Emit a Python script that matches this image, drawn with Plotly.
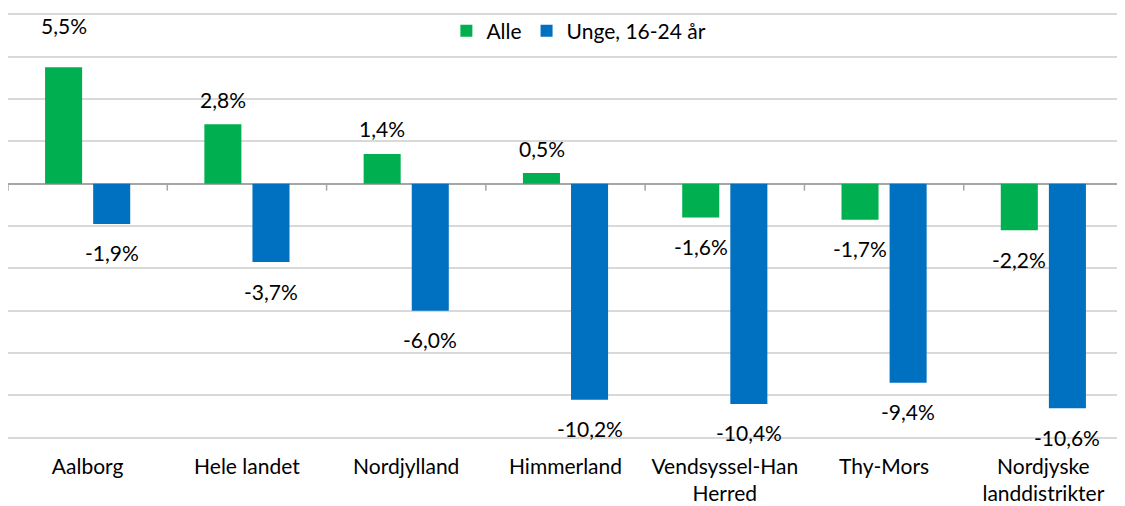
import plotly.graph_objects as go

categories = ["Aalborg", "Hele landet", "Nordjylland", "Himmerland",
              "Vendsyssel-Han<br>Herred", "Thy-Mors", "Nordjyske<br>landdistrikter"]
alle = [5.5, 2.8, 1.4, 0.5, -1.6, -1.7, -2.2]
unge = [-1.9, -3.7, -6.0, -10.2, -10.4, -9.4, -10.6]
series_names = ["Alle", "Unge, 16-24 år"]
y_ticks = [-12, -10, -8, -6, -4, -2, 0, 2, 4, 6, 8]

GREEN = "#00B050"
BLUE = "#0070C0"
FONT = "Lato"
FS = 21

# style: pixel gap between bar end and label centre
POS_SHIFT = 25
NEG_SHIFT = -29
extra_shift = {("Alle", 0): 17}
SLOT_SHIFT = 24  # half of a bar slot in px

fig = go.Figure()
for name, vals, col in [(series_names[0], alle, GREEN), (series_names[1], unge, BLUE)]:
    fig.add_trace(go.Bar(x=list(range(len(categories))), y=vals, name=name,
                         marker=dict(color=col, line=dict(width=0)),
                         hoverinfo="skip"))

annotations = []
for si, (name, vals) in enumerate([(series_names[0], alle), (series_names[1], unge)]):
    xs = -SLOT_SHIFT if si == 0 else SLOT_SHIFT
    for i, v in enumerate(vals):
        ys = POS_SHIFT if v >= 0 else NEG_SHIFT
        ys += extra_shift.get((name, i), 0)
        annotations.append(dict(x=i, y=v, xref="x", yref="y",
                                text=f"{v:.1f}%".replace(".", ","),
                                showarrow=False, xshift=xs, yshift=ys,
                                yanchor="middle", xanchor="center",
                                font=dict(family=FONT, size=FS, color="#000000")))

shapes = []
for b in range(len(categories) + 1):
    shapes.append(dict(type="line", xref="x", yref="y", x0=b - 0.5, x1=b - 0.5,
                       ysizemode="pixel", yanchor=0, y0=0, y1=-7,
                       line=dict(color="#A6A6A6", width=1.5), layer="above"))

fig.update_layout(
    width=1117, height=498,
    margin=dict(l=0, r=2, t=3, b=65, autoexpand=False),
    plot_bgcolor="white", paper_bgcolor="white",
    barmode="group", bargap=0.396, bargroupgap=0.23,
    font=dict(family=FONT, size=FS, color="#000000"),
    showlegend=True,
    legend=dict(orientation="h", x=0.512, xanchor="center", y=0.953, yanchor="middle",
                bgcolor="rgba(0,0,0,0)", font=dict(family=FONT, size=FS),
                itemclick=False, itemdoubleclick=False),
    annotations=annotations,
    shapes=shapes,
)
fig.update_xaxes(tickmode="array", tickvals=list(range(len(categories))),
                 ticktext=categories, range=[-0.5, len(categories) - 0.5],
                 showgrid=False, showline=False, zeroline=False, ticks="",
                 automargin=False,
                 ticklabelstandoff=11, tickfont=dict(family=FONT, size=FS))
fig.update_yaxes(range=[-12.15, 8.15], tickvals=y_ticks, showticklabels=False,
                 automargin=False,
                 showgrid=True, gridcolor="#D9D9D9", gridwidth=1.5,
                 zeroline=True, zerolinecolor="#A6A6A6", zerolinewidth=1.5,
                 showline=False, ticks="")

fig.write_html("out.html")
